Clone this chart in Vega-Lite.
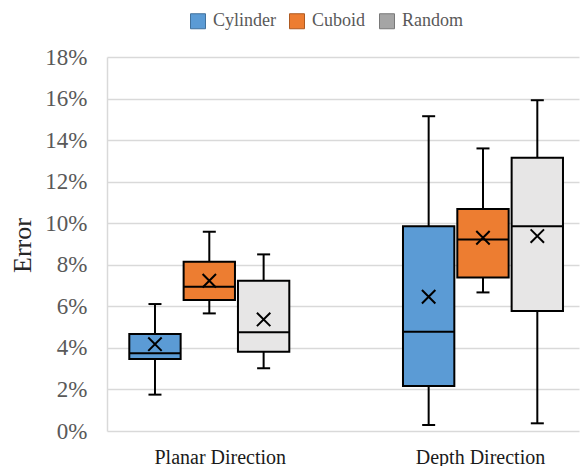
{
  "$schema": "https://vega.github.io/schema/vega-lite/v6.json",
  "width": 472,
  "height": 374,
  "autosize": {"type": "none"},
  "padding": {"left": 107, "top": 57, "right": 1, "bottom": 35},
  "background": "white",
  "config": {"view": {"stroke": null}, "font": "Liberation Serif"},
  "data": {"values": [
    {"Direction": "Planar Direction", "Shape": "Cylinder", "lo": 0.0175, "q1": 0.0346, "med": 0.0374, "q3": 0.0467, "hi": 0.0611, "mean": 0.0418},
    {"Direction": "Planar Direction", "Shape": "Cuboid", "lo": 0.0566, "q1": 0.0630, "med": 0.0694, "q3": 0.0814, "hi": 0.0959, "mean": 0.0723},
    {"Direction": "Planar Direction", "Shape": "Random", "lo": 0.0302, "q1": 0.0381, "med": 0.0475, "q3": 0.0723, "hi": 0.0850, "mean": 0.0537},
    {"Direction": "Depth Direction", "Shape": "Cylinder", "lo": 0.0029, "q1": 0.0217, "med": 0.0478, "q3": 0.0986, "hi": 0.1515, "mean": 0.0646},
    {"Direction": "Depth Direction", "Shape": "Cuboid", "lo": 0.0667, "q1": 0.0739, "med": 0.0922, "q3": 0.1068, "hi": 0.1360, "mean": 0.0930},
    {"Direction": "Depth Direction", "Shape": "Random", "lo": 0.0037, "q1": 0.0577, "med": 0.0986, "q3": 0.1315, "hi": 0.1592, "mean": 0.0938}
  ]},
  "encoding": {
    "x": {
      "field": "Direction", "type": "nominal",
      "sort": ["Planar Direction", "Depth Direction"],
      "scale": {"paddingInner": 0.4154, "paddingOuter": 0.07, "align": 0.582},
      "axis": {
        "title": null, "domain": false, "ticks": false, "grid": false,
        "labelFont": "Liberation Serif", "labelFontSize": 20, "labelColor": "#1a1a1a",
        "labelPadding": 16, "labelBaseline": "top", "labelAngle": 0,
        "labelOffset": {"condition": {"test": "datum.value === 'Planar Direction'", "value": 11}, "value": -2.5}
      }
    },
    "xOffset": {
      "field": "Shape", "type": "nominal",
      "sort": ["Cylinder", "Cuboid", "Random"],
      "scale": {"paddingInner": 0.055, "paddingOuter": 0}
    }
  },
  "layer": [
    {
      "mark": {"type": "rule", "stroke": "black", "strokeWidth": 2},
      "encoding": {
        "y": {
          "field": "lo", "type": "quantitative", "title": "Error",
          "scale": {"domain": [0, 0.18], "nice": false},
          "axis": {
            "title": "Error", "titleFont": "Liberation Serif", "titleFontSize": 26,
            "titleFontWeight": "normal", "titleColor": "#262626",
            "titleX": -85, "titleY": 188, "titleAngle": -90, "titleAlign": "center", "titleBaseline": "middle",
            "values": [0, 0.02, 0.04, 0.06, 0.08, 0.1, 0.12, 0.14, 0.16, 0.18],
            "format": ".0%",
            "labelFont": "Liberation Serif", "labelFontSize": 23, "labelColor": "#595959",
            "labelPadding": 20, "labelDy": 1, "ticks": false, "tickSize": 0,
            "domain": true, "domainColor": "#D9D9D9", "domainWidth": 1.5,
            "grid": true, "gridColor": "#D9D9D9", "gridWidth": 1.5
          }
        },
        "y2": {"field": "hi"}
      }
    },
    {
      "mark": {"type": "bar", "strokeWidth": 2},
      "encoding": {
        "y": {"field": "q1", "type": "quantitative", "title": "Error"},
        "y2": {"field": "q3"},
        "fill": {
          "field": "Shape", "type": "nominal",
          "condition": {"test": "datum.Shape === 'Random'", "value": "#E7E6E6"},
          "scale": {"domain": ["Cylinder", "Cuboid", "Random"], "range": ["#5B9BD5", "#ED7D31", "#A5A5A5"]},
          "legend": {
            "orient": "none", "legendX": 82, "legendY": -45, "direction": "horizontal",
            "title": null, "symbolType": "square", "symbolSize": 225, "symbolOpacity": 1,
            "symbolStrokeWidth": 1,
            "labelFont": "Liberation Serif", "labelFontSize": 18, "labelColor": "#595959",
            "labelOffset": 6, "columnPadding": 11, "padding": 0
          }
        },
        "stroke": {
          "field": "Shape", "type": "nominal",
          "condition": {"test": "true", "value": "black"},
          "scale": {"domain": ["Cylinder", "Cuboid", "Random"], "range": ["#41719C", "#AE5A21", "#787878"]}
        }
      }
    },
    {
      "mark": {"type": "tick", "orient": "horizontal", "color": "black", "opacity": 1, "size": 51, "thickness": 2},
      "encoding": {"y": {"field": "med", "type": "quantitative", "title": "Error"}}
    },
    {
      "mark": {"type": "tick", "orient": "horizontal", "color": "black", "opacity": 1, "size": 13, "thickness": 2},
      "encoding": {"y": {"field": "hi", "type": "quantitative", "title": "Error"}}
    },
    {
      "mark": {"type": "tick", "orient": "horizontal", "color": "black", "opacity": 1, "size": 13, "thickness": 2},
      "encoding": {"y": {"field": "lo", "type": "quantitative", "title": "Error"}}
    },
    {
      "mark": {"type": "point", "shape": "M-1,-1L1,1M-1,1L1,-1", "filled": false, "stroke": "black", "strokeWidth": 2, "size": 180, "opacity": 1},
      "encoding": {"y": {"field": "mean", "type": "quantitative", "title": "Error"}}
    }
  ]
}
